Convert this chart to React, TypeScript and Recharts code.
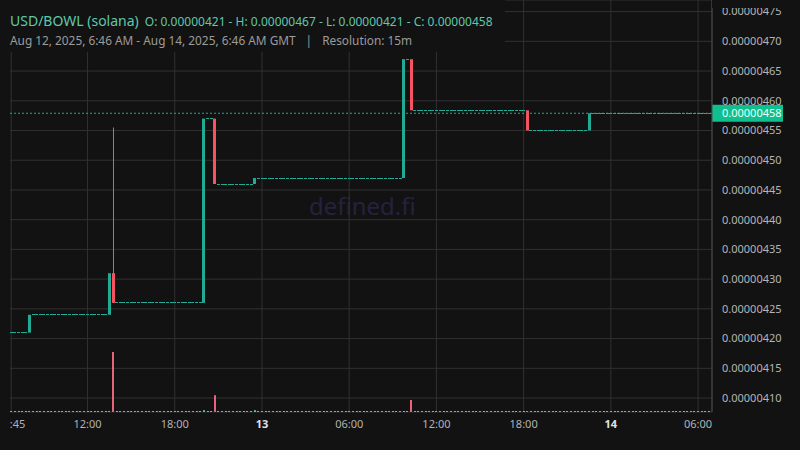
import React from "react"
import { ComposedChart, Bar, XAxis, YAxis, CartesianGrid, ReferenceLine } from "recharts"

// prices are in units of 1e-8 (421 = 0.00000421)
const candleCount = 193 // 15m candles, Aug 12 06:45 .. Aug 14 06:45
const startPrice = 421

// candles where price moved; every other candle is flat at the previous close
const moveIndex = [5, 27, 28, 53, 56, 67, 108, 110, 142, 159]
const moveOpen = [421, 424, 431, 426, 457, 446, 447, 467, 458.4, 455]
const moveClose = [424, 431, 426, 457, 446, 447, 467, 458.4, 455, 457.9]
const moveHigh = [424, 431, 455.5, 457, 457, 447, 467, 467, 458.4, 457.9]
const moveVolume = [0.5, 0.5, 100, 3, 28, 3, 0.5, 20, 0.6, 0.5]

const xTickIndex = [0, 21, 45, 69, 93, 117, 141, 165, 189]
const xTickLabel = ["06:45", "12:00", "18:00", "13", "06:00", "12:00", "18:00", "14", "06:00"]
const priceTicks = [410, 415, 420, 425, 430, 435, 440, 445, 450, 455, 460, 465, 470, 475]

const BG = "#121212"
const UP = "#22ab94"
const DOWN = "#f7525f"
const UP_VOL = "#5cc4a5"
const DOWN_VOL = "#e3667a"

const fmt = (v: number) => (v / 1e8).toFixed(8)

const candles = (() => {
  const out: any[] = []
  let last = startPrice
  for (let i = 0; i < candleCount; i++) {
    const k = moveIndex.indexOf(i)
    if (k >= 0) {
      const o = moveOpen[k]
      const c = moveClose[k]
      out.push({ i, open: o, close: c, high: moveHigh[k], low: Math.min(o, c), volume: moveVolume[k] })
      last = c
    } else {
      out.push({ i, open: last, close: last, high: last, low: last, volume: 0 })
    }
  }
  return out
})()

const lastClose = candles[candles.length - 1].close

const Candle = (props: any) => {
  let { x, y, width, height, payload } = props
  if (height < 0) {
    y += height
    height = -height
  }
  const { open, close, high, low } = payload
  const color = close < open ? DOWN : UP
  const cx = x + width / 2
  const span = high - low
  const py = (v: number) => (span > 0 ? y + ((high - v) / span) * height : y)
  const top = py(Math.max(open, close))
  const bot = py(Math.min(open, close))
  const hasWick = high > Math.max(open, close) || low < Math.min(open, close)
  const left = Math.round(cx - 1.5)
  const flat = bot - top < 1
  return (
    <g>
      {hasWick && (
        <line x1={left + 1.5} x2={left + 1.5} y1={py(high)} y2={py(low)} stroke={color} strokeWidth={1} />
      )}
      <rect
        x={left}
        y={flat ? Math.floor(top) : top}
        width={3}
        height={flat ? 1 : bot - top}
        fill={color}
      />
    </g>
  )
}

const VolBar = (props: any) => {
  let { x, y, width, height, payload } = props
  if (height < 0) {
    y += height
    height = -height
  }
  const color = payload.close < payload.open ? DOWN_VOL : UP_VOL
  const left = Math.round(x + width / 2 - 1)
  const base = Math.round(y + height)
  const h = Math.max(1, height)
  return <rect x={left} y={base - h} width={2} height={h} fill={color} />
}

const XTick = (props: any) => {
  const { x, y, payload } = props
  const label = xTickLabel[xTickIndex.indexOf(payload.value)]
  const isDay = label === "13" || label === "14"
  return (
    <text
      x={x}
      y={y}
      dy="0.71em"
      textAnchor="middle"
      fill={isDay ? "#e2e2e2" : "#b2b2b2"}
      fontSize={11}
      fontWeight={isDay ? 700 : 400}
    >
      {label}
    </text>
  )
}

const PriceBadge = (props: any) => {
  const { viewBox } = props
  if (!viewBox) return null
  const bx = viewBox.x + viewBox.width
  const by = viewBox.y
  return (
    <g>
      <rect x={bx} y={by - 8.5} width={71} height={17} fill="#0fbf8f" />
      <text x={bx + 10} y={by} dy="0.35em" fill="#eafff7" fontSize={11}>
        {fmt(lastClose)}
      </text>
    </g>
  )
}

export default function App() {
  return (
    <div
      style={{
        position: "fixed",
        left: 0,
        top: 0,
        width: 800,
        height: 450,
        background: BG,
        overflow: "hidden",
        fontFamily: '"Noto Sans", sans-serif',
      }}
    >
      <div
        style={{
          position: "absolute",
          left: 309,
          top: 190,
          fontSize: 24,
          lineHeight: "32px",
          color: "#24223e",
        }}
      >
        defined.fi
      </div>
      <ComposedChart
        width={800}
        height={450}
        data={candles}
        margin={{ top: 0, right: 0, left: 0, bottom: 0 }}
        barCategoryGap="10%"
        style={{ position: "absolute", left: 0, top: 0, fontFamily: '"Noto Sans", sans-serif' }}
      >
        <CartesianGrid stroke="#313131" />
        <XAxis
          dataKey="i"
          type="category"
          ticks={xTickIndex}
          interval={0}
          tick={<XTick />}
          tickLine={false}
          tickSize={0}
          tickMargin={8}
          axisLine={false}
          height={38}
          padding={{ left: 9.4, right: 1.2 }}
        />
        <XAxis xAxisId="vol" dataKey="i" type="category" hide padding={{ left: 9.4, right: 1.2 }} />
        <YAxis
          orientation="right"
          type="number"
          width={88}
          domain={[407.65, 476.95]}
          allowDataOverflow
          ticks={priceTicks}
          interval={0}
          tickFormatter={fmt}
          tick={{ fill: "#b5b5b5", fontSize: 11 }}
          tickLine={false}
          tickSize={0}
          tickMargin={10}
          axisLine={{ stroke: "#4a4a4a" }}
        />
        <YAxis yAxisId="vol" hide domain={[0, 687]} allowDataOverflow />
        <Bar
          xAxisId="vol"
          yAxisId="vol"
          dataKey="volume"
          shape={<VolBar />}
          isAnimationActive={false}
        />
        <Bar dataKey={(d: any) => [d.low, d.high]} shape={<Candle />} isAnimationActive={false} />
        <ReferenceLine y={lastClose} stroke={UP} strokeDasharray="2 2" label={<PriceBadge />} />
      </ComposedChart>
      {/* the pane starts at x=10: hide what falls left of it */}
      <div style={{ position: "absolute", left: 0, top: 0, width: 10, height: 450, background: BG }} />
      <div style={{ position: "absolute", left: 712, top: 0, width: 88, height: 8, background: BG }} />
      <div
        style={{
          position: "absolute",
          left: 0,
          top: 0,
          width: 505,
          height: 52,
          background: BG,
        }}
      >
        <div style={{ position: "absolute", left: 10, top: 10, lineHeight: "20px", color: "#5fc8aa", whiteSpace: "nowrap" }}>
          <span style={{ fontSize: 14 }}>USD/BOWL (solana)</span>
          <span style={{ fontSize: 12, marginLeft: 6 }}>
            O: 0.00000421 - H: 0.00000467 - L: 0.00000421 - C: 0.00000458
          </span>
        </div>
        <div style={{ position: "absolute", left: 10, top: 31, lineHeight: "18px", fontSize: 11.85, color: "#9c9c9c", whiteSpace: "nowrap" }}>
          Aug 12, 2025, 6:46 AM - Aug 14, 2025, 6:46 AM GMT
          <span style={{ margin: "0 10px" }}>|</span>
          Resolution: 15m
        </div>
      </div>
    </div>
  )
}
